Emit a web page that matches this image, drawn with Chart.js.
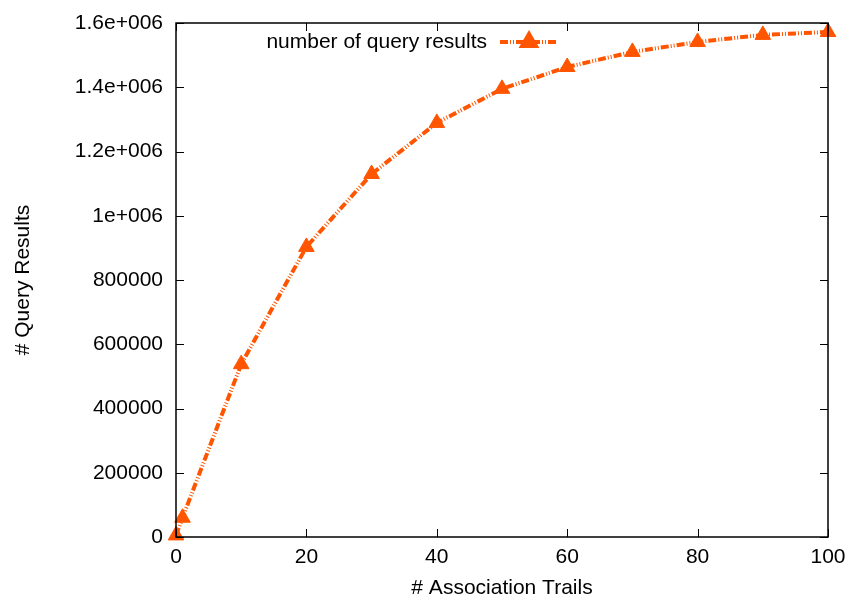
<!DOCTYPE html>
<html>
<head>
<meta charset="utf-8">
<script src="https://cdn.jsdelivr.net/npm/chart.js@4.4.1/dist/chart.umd.min.js"></script>
<style>
  html, body { margin: 0; padding: 0; background: #fff; }
  #wrap { width: 850px; height: 602px; }
</style>
</head>
<body>
<div id="wrap"><canvas id="chart-query-results"></canvas></div>
<script>
const trails = [0, 1, 10, 20, 30, 40, 50, 60, 70, 80, 90, 100];
const queryResults = [5000, 60000, 538000, 903000, 1130000, 1289000, 1395000, 1463000, 1510000, 1541000, 1563000, 1572000];
const xTicks = [0, 20, 40, 60, 80, 100];
const yTickLabels = ['0', '200000', '400000', '600000', '800000', '1e+006', '1.2e+006', '1.4e+006', '1.6e+006'];
const seriesLabel = 'number of query results';

const ORANGE = '#ff5500';
const FONT = '"Liberation Sans", Arial, Helvetica, sans-serif';
const FONT_SIZE = 21;
const DASH = [8, 2, 1, 2, 1, 2];

// gnuplot-style frame: border on all sides with inward, mirrored tick marks
const framePlugin = {
  id: 'frame',
  afterDraw(chart) {
    const { ctx, chartArea: a, scales } = chart;
    const len = 8;
    ctx.save();
    ctx.strokeStyle = '#000';
    ctx.lineWidth = 1;
    scales.x.ticks.forEach((t, i) => {
      const px = Math.round(scales.x.getPixelForTick(i)) + 0.5;
      ctx.beginPath();
      ctx.moveTo(px, a.bottom); ctx.lineTo(px, a.bottom - len);
      ctx.moveTo(px, a.top); ctx.lineTo(px, a.top + len);
      ctx.stroke();
    });
    scales.y.ticks.forEach((t, i) => {
      const py = Math.round(scales.y.getPixelForTick(i)) + 0.5;
      ctx.beginPath();
      ctx.moveTo(a.left, py); ctx.lineTo(a.left + len, py);
      ctx.moveTo(a.right, py); ctx.lineTo(a.right - len, py);
      ctx.stroke();
    });
    ctx.lineWidth = 1.5;
    ctx.strokeRect(a.left, a.top, a.right - a.left, a.bottom - a.top);
    ctx.restore();
  },
};

// key in the top of the plot: label text first, then the line sample
const keyPlugin = {
  id: 'key',
  afterDatasetsDraw(chart) {
    const { ctx, chartArea: a } = chart;
    const textRight = a.left + 311;
    const y = a.top + 19;
    ctx.save();
    ctx.font = FONT_SIZE + 'px ' + FONT;
    ctx.fillStyle = '#000';
    ctx.textAlign = 'right';
    ctx.textBaseline = 'middle';
    ctx.fillText(seriesLabel, textRight, y);
    ctx.strokeStyle = ORANGE;
    ctx.lineWidth = 4;
    ctx.setLineDash(DASH);
    ctx.beginPath();
    ctx.moveTo(textRight + 13, y);
    ctx.lineTo(textRight + 71, y);
    ctx.stroke();
    ctx.setLineDash([]);
    ctx.fillStyle = ORANGE;
    Chart.helpers.drawPoint(ctx, { pointStyle: 'triangle', radius: 8, rotation: 0, borderWidth: 1 }, textRight + 42, y);
    ctx.restore();
  },
};

// keep tick-label overhang from shrinking the plot area; layout.padding sets the margins
function noOverhang(s) {
  s.paddingLeft = 0;
  s.paddingRight = 0;
  s.paddingTop = 0;
  s.paddingBottom = 0;
}

new Chart(document.getElementById('chart-query-results'), {
  type: 'line',
  data: {
    datasets: [{
      label: seriesLabel,
      data: trails.map((x, i) => ({ x, y: queryResults[i] })),
      borderColor: ORANGE,
      backgroundColor: ORANGE,
      borderWidth: 4,
      borderDash: DASH,
      borderCapStyle: 'butt',
      tension: 0,
      pointStyle: 'triangle',
      pointRadius: 9,
      pointHoverRadius: 9,
      pointBorderWidth: 1,
      pointBackgroundColor: ORANGE,
      pointBorderColor: ORANGE,
      clip: false,
    }],
  },
  options: {
    responsive: true,
    maintainAspectRatio: false,
    animation: false,
    layout: { padding: { left: 0, top: 23, right: 22, bottom: 0 } },
    plugins: { legend: { display: false }, tooltip: { enabled: false } },
    scales: {
      x: {
        type: 'linear',
        min: 0,
        max: 100,
        afterFit: (s) => { s.height = 65; noOverhang(s); },
        afterBuildTicks: (s) => { s.ticks = xTicks.map((v) => ({ value: v })); },
        grid: { display: false, drawTicks: false },
        border: { display: false },
        ticks: { color: '#000', padding: 8, font: { family: FONT, size: FONT_SIZE } },
        title: {
          display: true,
          text: '# Association Trails',
          color: '#000',
          padding: { top: 1, bottom: 1 },
          font: { family: FONT, size: FONT_SIZE },
        },
      },
      y: {
        min: 0,
        max: 1600000,
        afterFit: (s) => { s.width = 176; noOverhang(s); },
        grid: { display: false, drawTicks: false },
        border: { display: false },
        ticks: {
          stepSize: 200000,
          color: '#000',
          padding: 13,
          font: { family: FONT, size: FONT_SIZE },
          callback: (v, i) => yTickLabels[i],
        },
        title: {
          display: true,
          text: '# Query Results',
          color: '#000',
          padding: { top: 11, bottom: 11 },
          font: { family: FONT, size: FONT_SIZE },
        },
      },
    },
  },
  plugins: [framePlugin, keyPlugin],
});
</script>
</body>
</html>
